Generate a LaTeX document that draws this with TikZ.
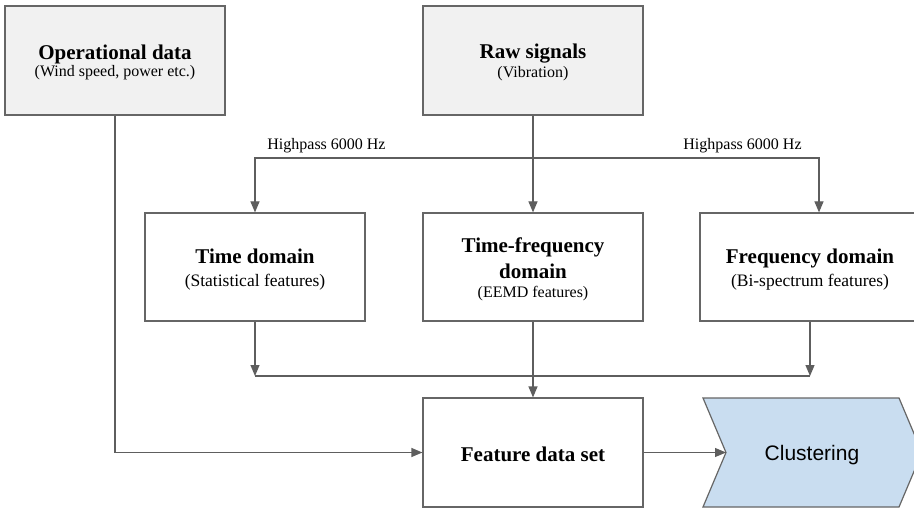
\documentclass[tikz,border=0pt]{standalone}
\usepackage{fontspec}
\setmainfont{Liberation Serif}
\newfontfamily\sansarial{Liberation Sans}
\usetikzlibrary{arrows.meta}
\definecolor{boxgray}{HTML}{F1F1F1}
\definecolor{edgegray}{HTML}{666666}
\definecolor{linegray}{HTML}{5E5E5E}
\definecolor{clusterblue}{HTML}{C9DDF0}
\begin{document}
\begin{tikzpicture}[x=1pt,y=-1pt,
  boxbase/.style={draw=edgegray,line width=1.2pt,inner sep=0pt,minimum width=220pt},
  topbox/.style={boxbase,fill=boxgray,minimum height=109pt},
  midbox/.style={boxbase,fill=white,minimum height=108pt},
  title/.style={anchor=base,inner sep=0pt,font=\fontsize{21}{25}\selectfont\bfseries},
  subsmall/.style={anchor=base,inner sep=0pt,font=\fontsize{16}{19}\selectfont},
  subbig/.style={anchor=base,inner sep=0pt,font=\fontsize{17.5}{21}\selectfont},
  lab/.style={anchor=base,inner sep=0pt,font=\fontsize{16}{19}\selectfont},
  conn/.style={draw=linegray,line width=1.2pt},
  arr/.style={conn,-{Triangle[length=11pt,width=9pt]}}]
\useasboundingbox (0,0) rectangle (914,508);
\clip (0,0) rectangle (914,508);
\fill[white] (0,0) rectangle (914,508);

% top boxes
\node[topbox] (op) at (115,60.5) {};
\node[title] (opt) at (115,60) {Operational data};
\node[subsmall] (ops) at (115,77) {(Wind speed, power etc.)};

\node[topbox] (raw) at (533,60.5) {};
\node[title] (rawt) at (533,59) {Raw signals};
\node[subsmall] (raws) at (533,78) {(Vibration)};

% middle boxes
\node[midbox] (td) at (255,267) {};
\node[title] (tdt) at (255,264) {Time domain};
\node[subbig] (tds) at (255,287) {(Statistical features)};

\node[midbox] (tf) at (533,267) {};
\node[title] (tft1) at (533,253) {Time-frequency};
\node[title] (tft2) at (533,278) {domain};
\node[subsmall] (tfs) at (533,298) {(EEMD features)};

\node[midbox] (fd) at (810,267) {};
\node[title] (fdt) at (810,264) {Frequency domain};
\node[subbig] (fds) at (810,287) {(Bi-spectrum features)};

% feature data set
\node[boxbase,fill=white,minimum height=109pt] (fset) at (533,452.5) {};
\node[title] (fsett) at (533,461) {Feature data set};

% clustering chevron
\draw[draw=edgegray,fill=clusterblue,line width=1.2pt]
  (703,398) -- (899,398) -- (922,452.5) -- (899,507) -- (703,507) -- (726,452.5) -- cycle;
\coordinate (clin) at (726,452.5);
\node[anchor=base,inner sep=0pt,font=\sansarial\fontsize{21}{25}\selectfont] (clt) at (812,460) {Clustering};

% connectors
\coordinate (split) at (533,158);
\draw[arr] (raw.south) -- (tf.north);
\draw[arr] (split) -| (td.north);
\draw[arr] (split) -| ([xshift=9pt]fd.north);
\node[lab] (hp1) at (326.5,150) {Highpass 6000 Hz};
\node[lab] (hp2) at (742.5,150) {Highpass 6000 Hz};

\coordinate (merge) at (533,376);
\draw[conn] (td.south |- merge) -- (fd.south |- merge);
\draw[arr] (td.south) -- (td.south |- merge);
\draw[arr] (fd.south) -- (fd.south |- merge);
\draw[arr] (tf.south) -- (fset.north);
\draw[arr] (op.south) |- (fset.west);
\draw[arr] (fset.east) -- (clin);
\end{tikzpicture}
\end{document}
